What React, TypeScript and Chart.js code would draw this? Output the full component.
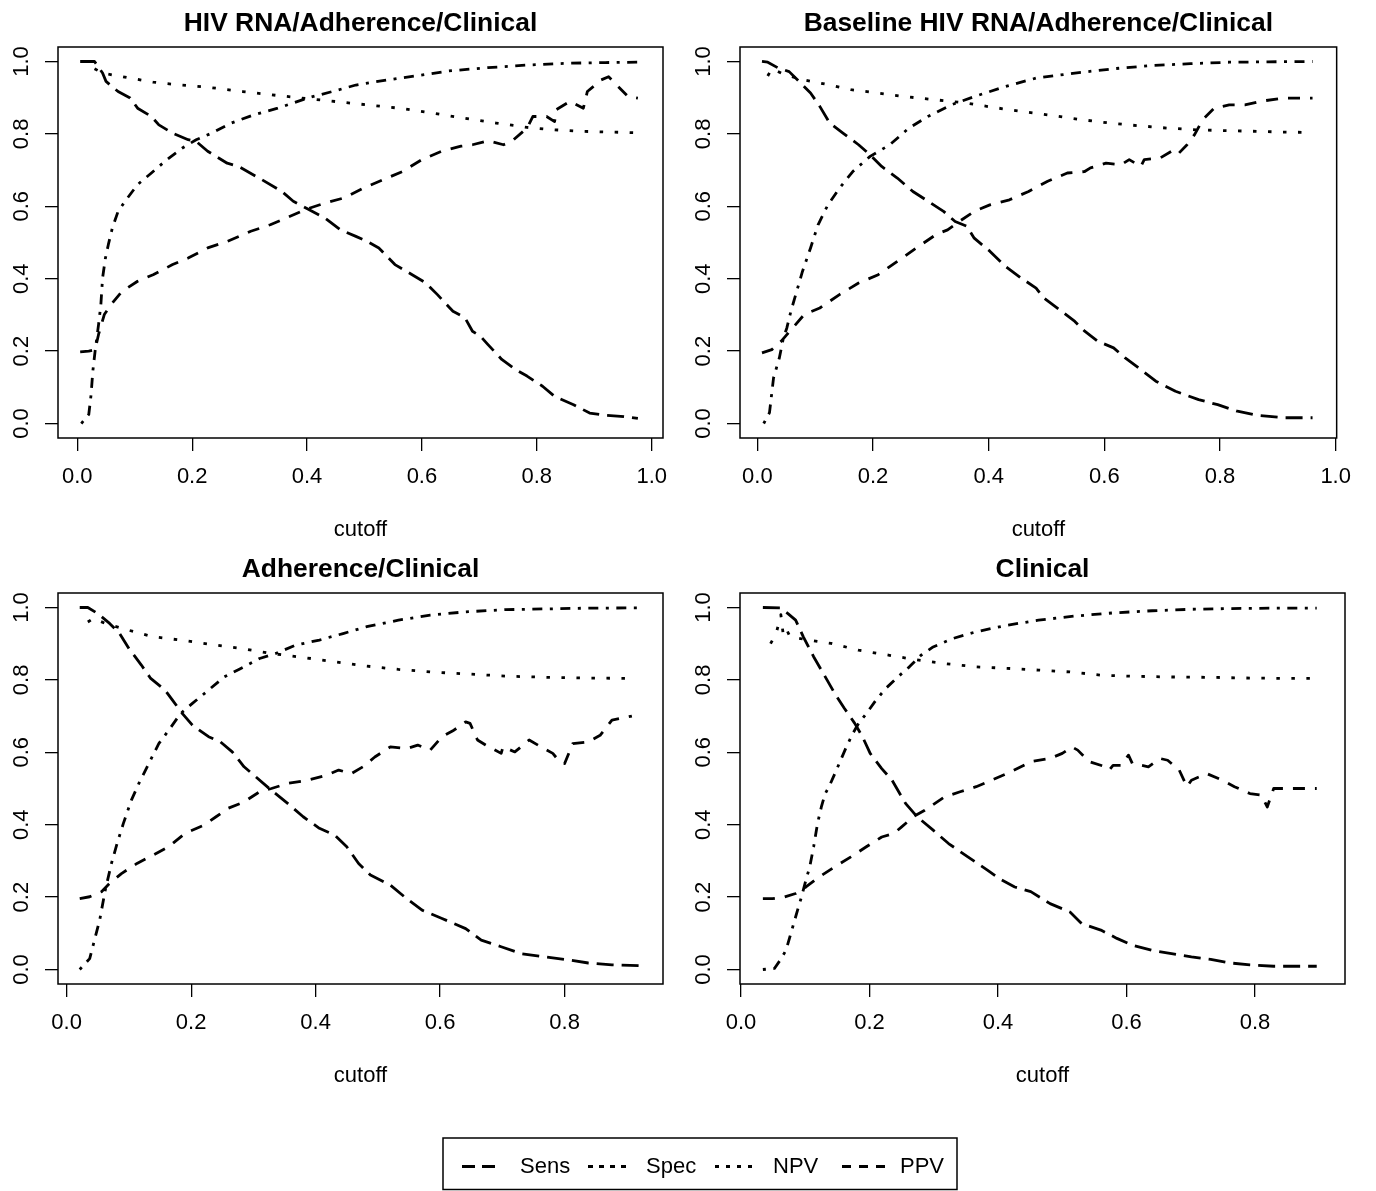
import React, { useEffect, useRef } from "react";
import { Chart, registerables } from "chart.js";

Chart.register(...registerables);
Chart.defaults.font.family = '"Liberation Sans", Arial, Helvetica, sans-serif';
Chart.defaults.color = "#000";

type Pt = [number, number];

// ---------- labels ----------
const seriesNames = ["Sens", "Spec", "NPV", "PPV"];
const panelTitles = [
  "HIV RNA/Adherence/Clinical",
  "Baseline HIV RNA/Adherence/Clinical",
  "Adherence/Clinical",
  "Clinical",
];
const xAxisTitle = "cutoff";
const yTicks = [0, 0.2, 0.4, 0.6, 0.8, 1.0];
const xTicksTop = [0, 0.2, 0.4, 0.6, 0.8, 1.0];
const xTicksBottom = [0, 0.2, 0.4, 0.6, 0.8];

// ---------- panel 1: HIV RNA/Adherence/Clinical ----------
const p1Sens: Pt[] = [[0.005,1.0],[0.03,1.0],[0.044,0.968],[0.05,0.945],[0.071,0.917],[0.092,0.899],[0.105,0.871],[0.129,0.848],[0.142,0.825],[0.166,0.802],[0.193,0.784],[0.207,0.779],[0.227,0.752],[0.261,0.719],[0.281,0.71],[0.322,0.673],[0.356,0.641],[0.376,0.614],[0.403,0.591],[0.431,0.568],[0.458,0.535],[0.485,0.517],[0.505,0.503],[0.525,0.485],[0.553,0.439],[0.583,0.411],[0.607,0.388],[0.627,0.356],[0.654,0.31],[0.675,0.292],[0.688,0.255],[0.702,0.241],[0.715,0.218],[0.739,0.177],[0.763,0.149],[0.783,0.131],[0.81,0.103],[0.831,0.075],[0.864,0.052],[0.892,0.029],[0.919,0.023],[0.946,0.02],[0.976,0.014]];
const p1Spec: Pt[] = [[0.007,0],[0.02,0.025],[0.024,0.08],[0.027,0.144],[0.031,0.2],[0.037,0.273],[0.041,0.328],[0.044,0.402],[0.049,0.457],[0.054,0.494],[0.061,0.54],[0.071,0.586],[0.085,0.618],[0.105,0.66],[0.129,0.692],[0.156,0.729],[0.183,0.761],[0.207,0.784],[0.234,0.802],[0.268,0.83],[0.308,0.853],[0.349,0.871],[0.403,0.9],[0.444,0.917],[0.485,0.935],[0.539,0.949],[0.593,0.961],[0.647,0.974],[0.715,0.983],[0.783,0.99],[0.851,0.995],[0.919,0.997],[0.976,0.998]];
const p1Npv: Pt[] = [[0.03,0.98],[0.044,0.968],[0.092,0.954],[0.132,0.943],[0.173,0.936],[0.227,0.929],[0.288,0.917],[0.349,0.906],[0.403,0.897],[0.458,0.888],[0.512,0.879],[0.566,0.87],[0.62,0.857],[0.675,0.843],[0.729,0.83],[0.783,0.818],[0.824,0.812],[0.878,0.807],[0.932,0.805],[0.976,0.803]];
const p1Ppv: Pt[] = [[0.005,0.198],[0.02,0.2],[0.031,0.204],[0.037,0.246],[0.047,0.301],[0.061,0.333],[0.078,0.365],[0.105,0.393],[0.132,0.411],[0.166,0.439],[0.193,0.457],[0.227,0.485],[0.261,0.503],[0.302,0.531],[0.336,0.549],[0.364,0.568],[0.397,0.591],[0.431,0.609],[0.464,0.623],[0.498,0.65],[0.532,0.673],[0.566,0.696],[0.6,0.729],[0.634,0.752],[0.668,0.766],[0.688,0.77],[0.715,0.781],[0.742,0.77],[0.756,0.779],[0.783,0.816],[0.793,0.848],[0.817,0.848],[0.831,0.834],[0.834,0.867],[0.858,0.89],[0.881,0.871],[0.888,0.917],[0.912,0.949],[0.925,0.958],[0.939,0.935],[0.959,0.903],[0.976,0.899]];

// ---------- panel 2: Baseline HIV RNA/Adherence/Clinical ----------
const p2Sens: Pt[] = [[0.008,1.0],[0.018,0.998],[0.035,0.983],[0.055,0.972],[0.075,0.94],[0.092,0.913],[0.108,0.876],[0.125,0.83],[0.148,0.802],[0.175,0.77],[0.195,0.742],[0.215,0.71],[0.242,0.678],[0.269,0.641],[0.295,0.614],[0.322,0.586],[0.342,0.558],[0.362,0.545],[0.375,0.512],[0.402,0.476],[0.429,0.434],[0.456,0.402],[0.482,0.374],[0.495,0.347],[0.522,0.315],[0.549,0.282],[0.566,0.255],[0.589,0.227],[0.616,0.209],[0.636,0.181],[0.663,0.149],[0.689,0.117],[0.723,0.089],[0.763,0.066],[0.796,0.052],[0.83,0.034],[0.863,0.023],[0.91,0.016],[0.96,0.016]];
const p2Spec: Pt[] = [[0.011,0],[0.021,0.03],[0.028,0.126],[0.038,0.181],[0.045,0.236],[0.051,0.264],[0.058,0.31],[0.068,0.365],[0.078,0.42],[0.092,0.485],[0.105,0.549],[0.122,0.604],[0.142,0.65],[0.165,0.696],[0.195,0.738],[0.229,0.77],[0.262,0.816],[0.295,0.848],[0.335,0.88],[0.375,0.903],[0.429,0.931],[0.482,0.954],[0.549,0.968],[0.616,0.98],[0.683,0.989],[0.749,0.994],[0.816,0.998],[0.883,0.999],[0.96,1.0]];
const p2Npv: Pt[] = [[0.018,0.96],[0.025,0.98],[0.048,0.963],[0.081,0.949],[0.122,0.936],[0.162,0.922],[0.208,0.913],[0.255,0.903],[0.309,0.894],[0.362,0.885],[0.409,0.873],[0.456,0.862],[0.509,0.851],[0.562,0.839],[0.609,0.83],[0.656,0.823],[0.709,0.816],[0.763,0.811],[0.81,0.809],[0.863,0.807],[0.91,0.805],[0.96,0.804]];
const p2Ppv: Pt[] = [[0.008,0.195],[0.025,0.204],[0.041,0.227],[0.061,0.264],[0.081,0.301],[0.108,0.319],[0.142,0.356],[0.175,0.388],[0.209,0.411],[0.242,0.448],[0.275,0.485],[0.309,0.522],[0.329,0.535],[0.349,0.558],[0.375,0.586],[0.402,0.604],[0.436,0.618],[0.469,0.641],[0.502,0.669],[0.536,0.692],[0.566,0.696],[0.576,0.706],[0.603,0.719],[0.629,0.715],[0.643,0.729],[0.663,0.71],[0.669,0.729],[0.696,0.733],[0.716,0.752],[0.726,0.742],[0.743,0.77],[0.756,0.798],[0.77,0.839],[0.79,0.871],[0.816,0.88],[0.843,0.88],[0.87,0.89],[0.91,0.899],[0.96,0.899]];

// ---------- panel 3: Adherence/Clinical ----------
const p3Sens: Pt[] = [[0.021,1.0],[0.034,1.0],[0.05,0.983],[0.069,0.956],[0.085,0.928],[0.1,0.887],[0.12,0.841],[0.135,0.804],[0.158,0.772],[0.17,0.744],[0.186,0.707],[0.202,0.675],[0.228,0.643],[0.247,0.629],[0.266,0.601],[0.285,0.56],[0.304,0.532],[0.329,0.495],[0.355,0.459],[0.38,0.422],[0.406,0.39],[0.431,0.371],[0.45,0.339],[0.469,0.293],[0.488,0.261],[0.52,0.233],[0.546,0.196],[0.571,0.164],[0.603,0.141],[0.641,0.113],[0.666,0.081],[0.698,0.063],[0.73,0.044],[0.768,0.035],[0.8,0.028],[0.838,0.018],[0.876,0.013],[0.927,0.01]];
const p3Spec: Pt[] = [[0.021,0],[0.037,0.03],[0.046,0.09],[0.053,0.136],[0.062,0.219],[0.072,0.293],[0.081,0.348],[0.091,0.403],[0.104,0.468],[0.116,0.514],[0.132,0.569],[0.148,0.624],[0.164,0.661],[0.183,0.707],[0.202,0.735],[0.228,0.772],[0.253,0.808],[0.279,0.831],[0.31,0.859],[0.336,0.873],[0.368,0.896],[0.406,0.91],[0.444,0.928],[0.482,0.947],[0.533,0.965],[0.584,0.979],[0.641,0.988],[0.705,0.994],[0.768,0.996],[0.832,0.998],[0.927,0.999]];
const p3Npv: Pt[] = [[0.034,0.96],[0.043,0.97],[0.062,0.956],[0.1,0.937],[0.139,0.919],[0.183,0.91],[0.228,0.899],[0.279,0.887],[0.329,0.873],[0.38,0.862],[0.431,0.85],[0.482,0.838],[0.533,0.829],[0.584,0.822],[0.647,0.816],[0.711,0.81],[0.775,0.807],[0.838,0.805],[0.915,0.804]];
const p3Ppv: Pt[] = [[0.021,0.196],[0.037,0.201],[0.056,0.215],[0.069,0.238],[0.088,0.265],[0.113,0.293],[0.139,0.316],[0.164,0.339],[0.19,0.376],[0.221,0.399],[0.24,0.422],[0.259,0.445],[0.285,0.463],[0.31,0.491],[0.329,0.5],[0.355,0.514],[0.387,0.523],[0.418,0.537],[0.437,0.551],[0.457,0.541],[0.476,0.56],[0.495,0.587],[0.52,0.615],[0.546,0.61],[0.564,0.62],[0.584,0.606],[0.603,0.643],[0.622,0.661],[0.641,0.684],[0.648,0.68],[0.66,0.634],[0.673,0.62],[0.698,0.597],[0.701,0.615],[0.72,0.601],[0.743,0.634],[0.762,0.615],[0.781,0.597],[0.79,0.578],[0.8,0.569],[0.813,0.624],[0.838,0.629],[0.857,0.647],[0.876,0.689],[0.902,0.698],[0.908,0.7]];

// ---------- panel 4: Clinical ----------
const p4Sens: Pt[] = [[0.034,1.0],[0.061,0.999],[0.073,0.983],[0.085,0.965],[0.097,0.919],[0.113,0.864],[0.128,0.818],[0.146,0.762],[0.161,0.721],[0.177,0.68],[0.189,0.643],[0.201,0.597],[0.219,0.555],[0.235,0.523],[0.247,0.486],[0.256,0.459],[0.274,0.422],[0.299,0.385],[0.323,0.348],[0.353,0.311],[0.384,0.274],[0.402,0.251],[0.426,0.228],[0.451,0.215],[0.481,0.182],[0.512,0.159],[0.53,0.127],[0.56,0.109],[0.585,0.086],[0.609,0.067],[0.64,0.053],[0.67,0.044],[0.701,0.035],[0.731,0.028],[0.762,0.018],[0.792,0.013],[0.829,0.009],[0.896,0.009]];
const p4Spec: Pt[] = [[0.034,0],[0.052,0.003],[0.061,0.026],[0.07,0.053],[0.076,0.09],[0.082,0.127],[0.088,0.164],[0.094,0.2],[0.101,0.247],[0.107,0.284],[0.113,0.339],[0.119,0.403],[0.125,0.449],[0.131,0.486],[0.137,0.505],[0.146,0.541],[0.155,0.578],[0.164,0.615],[0.174,0.652],[0.183,0.68],[0.195,0.707],[0.21,0.744],[0.225,0.776],[0.244,0.808],[0.262,0.836],[0.28,0.868],[0.299,0.891],[0.329,0.914],[0.366,0.933],[0.414,0.951],[0.463,0.965],[0.518,0.976],[0.579,0.985],[0.64,0.991],[0.701,0.995],[0.762,0.997],[0.822,0.998],[0.896,0.998]];
const p4Npv: Pt[] = [[0.046,0.9],[0.055,0.93],[0.062,0.98],[0.066,0.92],[0.072,0.935],[0.076,0.92],[0.079,0.919],[0.104,0.91],[0.14,0.901],[0.183,0.882],[0.231,0.868],[0.274,0.855],[0.317,0.845],[0.366,0.836],[0.414,0.832],[0.463,0.827],[0.512,0.822],[0.56,0.813],[0.609,0.81],[0.67,0.808],[0.731,0.807],[0.792,0.805],[0.853,0.804],[0.896,0.804]];
const p4Ppv: Pt[] = [[0.034,0.196],[0.049,0.196],[0.067,0.2],[0.085,0.21],[0.101,0.228],[0.122,0.256],[0.146,0.284],[0.171,0.311],[0.195,0.339],[0.219,0.366],[0.238,0.376],[0.25,0.394],[0.268,0.422],[0.286,0.44],[0.317,0.477],[0.341,0.491],[0.366,0.505],[0.39,0.523],[0.42,0.546],[0.451,0.574],[0.481,0.583],[0.5,0.597],[0.515,0.615],[0.524,0.606],[0.542,0.574],[0.567,0.56],[0.573,0.551],[0.579,0.564],[0.591,0.564],[0.603,0.592],[0.609,0.569],[0.634,0.56],[0.652,0.583],[0.664,0.578],[0.682,0.551],[0.694,0.505],[0.701,0.523],[0.725,0.541],[0.749,0.523],[0.768,0.505],[0.792,0.486],[0.81,0.482],[0.819,0.449],[0.829,0.5],[0.853,0.5],[0.896,0.5]];

// ---------- styling ----------
const dashes: number[][] = [[17, 8], [3, 7.5, 10, 7.5], [3.5, 11.5], [12, 10]];
const legendDashes: number[][] = [[13, 7], [5, 6], [4, 7], [9, 8]];
const legendSegLen = [38, 40, 37, 45];
const LINE_W = 2.8;
const PANEL_W = 682;
const PANEL_H = 546;
const AREA = { left: 58, right: 663, top: 47, bottom: 438 };

const panels = [
  { title: panelTitles[0], series: [p1Sens, p1Spec, p1Npv, p1Ppv], xMin: -0.0336, xMax: 1.0197, xTicks: xTicksTop, left: 0, top: 0 },
  { title: panelTitles[1], series: [p2Sens, p2Spec, p2Npv, p2Ppv], xMin: -0.03, xMax: 1.0017, xTicks: xTicksTop, left: 682, top: 0 },
  { title: panelTitles[2], series: [p3Sens, p3Spec, p3Npv, p3Ppv], xMin: -0.0139, xMax: 0.958, xTicks: xTicksBottom, left: 0, top: 546 },
  { title: panelTitles[3], series: [p4Sens, p4Spec, p4Npv, p4Ppv], xMin: -0.0016, xMax: 0.94, xTicks: xTicksBottom, left: 682, top: 546 },
];

const framePlugin = (title: string) => ({
  id: "frameAndTitle",
  afterDraw(chart: any) {
    const { ctx, chartArea: a } = chart;
    ctx.save();
    ctx.strokeStyle = "#000";
    ctx.lineWidth = 1.5;
    ctx.strokeRect(a.left, a.top, a.right - a.left, a.bottom - a.top);
    ctx.font = 'bold 26.4px "Liberation Sans", Arial, sans-serif';
    ctx.fillStyle = "#000";
    ctx.textAlign = "center";
    ctx.textBaseline = "alphabetic";
    ctx.fillText(title, (a.left + a.right) / 2, 31);
    ctx.restore();
  },
});

function Panel(props: { title: string; series: Pt[][]; xMin: number; xMax: number; xTicks: number[]; left: number; top: number }) {
  const ref = useRef<HTMLCanvasElement>(null);
  useEffect(() => {
    const chart = new Chart(ref.current as HTMLCanvasElement, {
      type: "line",
      data: {
        datasets: props.series.map((pts, i) => ({
          label: seriesNames[i],
          data: pts.map(([x, y]) => ({ x, y })),
          borderColor: "#000",
          backgroundColor: "#000",
          borderWidth: LINE_W,
          borderDash: dashes[i],
          borderCapStyle: "butt",
          borderJoinStyle: "round",
          pointRadius: 0,
          fill: false,
          tension: 0,
        })),
      },
      options: {
        responsive: false,
        animation: false,
        events: [],
        layout: { padding: { top: AREA.top, right: PANEL_W - AREA.right, left: 0, bottom: 0 } },
        plugins: { legend: { display: false }, tooltip: { enabled: false } },
        scales: {
          x: {
            type: "linear",
            min: props.xMin,
            max: props.xMax,
            afterBuildTicks: (s: any) => { s.ticks = props.xTicks.map((v) => ({ value: v })); },
            afterFit: (s: any) => { s.height = PANEL_H - AREA.bottom; },
            grid: { display: true, drawOnChartArea: false, drawTicks: true, tickLength: 13, color: "#000", lineWidth: 1.3 },
            border: { display: false },
            ticks: { color: "#000", font: { size: 22 }, padding: 13, maxRotation: 0, minRotation: 0, autoSkip: false, callback: (v: any) => Number(v).toFixed(1) },
            title: { display: true, text: xAxisTitle, color: "#000", font: { size: 22 }, padding: { top: 0, bottom: 3 } },
          },
          y: {
            type: "linear",
            min: -0.04,
            max: 1.04,
            afterBuildTicks: (s: any) => { s.ticks = yTicks.map((v) => ({ value: v })); },
            afterFit: (s: any) => { s.width = AREA.left; },
            grid: { display: true, drawOnChartArea: false, drawTicks: true, tickLength: 13, color: "#000", lineWidth: 1.3 },
            border: { display: false },
            ticks: { color: "#000", font: { size: 22 }, padding: 8, minRotation: 90, maxRotation: 90, crossAlign: "center", autoSkip: false, callback: (v: any) => Number(v).toFixed(1) },
          },
        },
      } as any,
      plugins: [framePlugin(props.title)],
    });
    return () => chart.destroy();
  }, []);
  return (
    <canvas
      ref={ref}
      width={PANEL_W}
      height={PANEL_H}
      style={{ position: "absolute", left: props.left, top: props.top, width: PANEL_W, height: PANEL_H }}
    />
  );
}

const legendSegX = [462, 588, 715, 842];

function Legend() {
  const ref = useRef<HTMLCanvasElement>(null);
  useEffect(() => {
    const c = ref.current as HTMLCanvasElement;
    const ctx = c.getContext("2d") as CanvasRenderingContext2D;
    const ox = 430, oy = 1125;
    ctx.clearRect(0, 0, c.width, c.height);
    ctx.strokeStyle = "#000";
    ctx.lineWidth = 1.5;
    ctx.strokeRect(443 - ox, 1138 - oy, 957 - 443, 1189.5 - 1138);
    const cy = 1166.5 - oy;
    seriesNames.forEach((name, i) => {
      const sx = legendSegX[i] - ox;
      ctx.save();
      ctx.lineWidth = LINE_W;
      ctx.setLineDash(legendDashes[i]);
      ctx.beginPath();
      ctx.moveTo(sx, cy);
      ctx.lineTo(sx + legendSegLen[i], cy);
      ctx.stroke();
      ctx.restore();
      ctx.fillStyle = "#000";
      ctx.font = '22px "Liberation Sans", Arial, sans-serif';
      ctx.textAlign = "left";
      ctx.textBaseline = "middle";
      ctx.fillText(name, sx + 58, cy);
    });
  }, []);
  return <canvas ref={ref} width={540} height={66} style={{ position: "absolute", left: 430, top: 1125, width: 540, height: 66 }} />;
}

export default function App() {
  return (
    <div style={{ position: "absolute", left: 0, top: 0, width: 1376, height: 1191, overflow: "hidden", background: "#fff" }}>
      {panels.map((p, i) => (
        <Panel key={i} {...p} />
      ))}
      <Legend />
    </div>
  );
}
